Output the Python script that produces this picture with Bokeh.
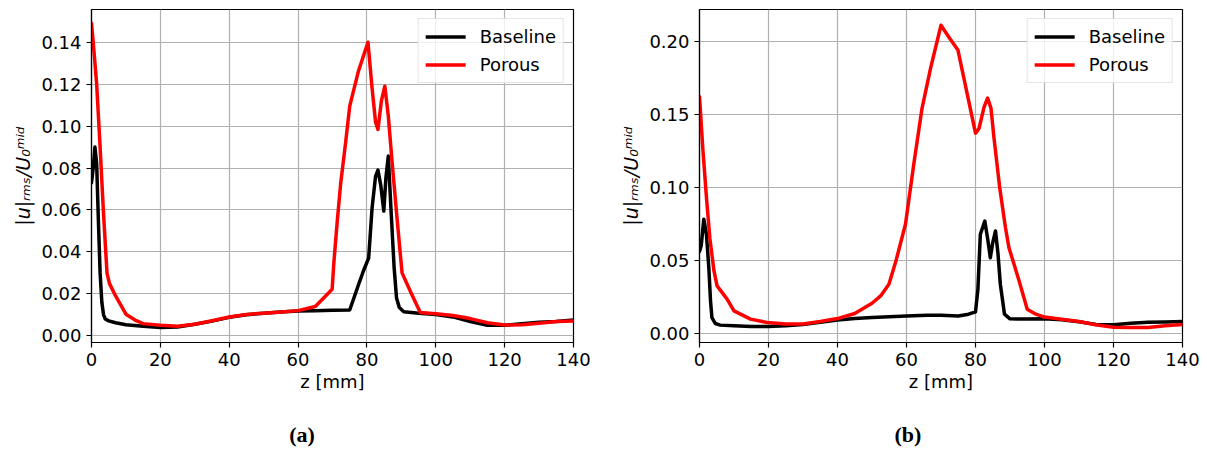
from bokeh.plotting import figure
from bokeh.layouts import row, column
from bokeh.models import Range1d, FixedTicker, PrintfTickFormatter, Legend, LegendItem, Div
from bokeh.embed import file_html
from bokeh.resources import INLINE

# ---------------- data (a) ----------------
z_base_a = [0, 0.5, 1.0, 1.5, 2.0, 2.5, 3.0, 3.5, 4.0, 5, 7, 10, 15, 20, 25, 30, 35, 40, 45, 50,
            55, 60, 65, 70, 75, 77.6, 79, 80.5, 81.5, 82.5, 83.2, 84.0, 84.9, 85.5, 86.2, 87.0,
            87.9, 88.6, 89.4, 90.7, 95, 100, 105, 110, 115, 120, 125, 130, 135, 140]
base_a = [0.073, 0.080, 0.090, 0.082, 0.055, 0.030, 0.016, 0.010, 0.008, 0.0071, 0.0062, 0.0053,
          0.0045, 0.0040, 0.0042, 0.0055, 0.0070, 0.0088, 0.0100, 0.0108, 0.0113, 0.0118, 0.0120,
          0.0122, 0.0123, 0.0246, 0.031, 0.037, 0.061, 0.076, 0.079, 0.072, 0.0595, 0.075, 0.0857,
          0.060, 0.0325, 0.018, 0.0135, 0.0115, 0.0108, 0.0102, 0.0090, 0.0068, 0.0050, 0.0050,
          0.0058, 0.0065, 0.0068, 0.0075]

z_por_a = [0, 0.5, 1.5, 2.5, 3.5, 4.5, 5.2, 7, 10, 13, 15, 20, 25, 30, 35, 40, 45, 50, 55, 60, 65,
           68, 69.9, 70.4, 71.4, 72.4, 73.8, 75.0, 77.5, 80.3, 81.5, 82.5, 83.2, 84.2, 85.2, 86.2,
           87.3, 88.8, 90.2, 92.8, 95.5, 100, 105, 110, 115, 120, 125, 130, 135, 140]
por_a = [0.149, 0.140, 0.120, 0.090, 0.058, 0.030, 0.025, 0.019, 0.0103, 0.0072, 0.0058, 0.0050,
         0.0046, 0.0055, 0.0072, 0.0090, 0.0102, 0.0108, 0.0113, 0.0120, 0.0140, 0.019, 0.0222,
         0.035, 0.055, 0.073, 0.092, 0.1095, 0.126, 0.140, 0.118, 0.102, 0.0984, 0.112, 0.119,
         0.105, 0.083, 0.055, 0.030, 0.0205, 0.0111, 0.0105, 0.0097, 0.0082, 0.0062, 0.0051,
         0.0053, 0.0060, 0.0068, 0.0071]

# ---------------- data (b) ----------------
z_base_b = [0, 0.5, 1.25, 2.0, 2.7, 3.2, 3.6, 4.6, 6, 10, 15, 20, 25, 30, 35, 40, 45, 50, 55, 60,
            66, 70, 75, 78, 80, 80.7, 81.4, 82.7, 83.5, 84.3, 85.0, 85.8, 86.5, 87.2, 88.4, 90,
            95, 100, 105, 110, 115, 120, 125, 130, 135, 140]
base_b = [0.056, 0.060, 0.078, 0.068, 0.045, 0.022, 0.0107, 0.0066, 0.0055, 0.0050, 0.0045, 0.0045,
          0.0050, 0.0060, 0.0075, 0.0090, 0.0100, 0.0108, 0.0112, 0.0118, 0.0123, 0.0122, 0.0118,
          0.0130, 0.0146, 0.030, 0.0677, 0.0768, 0.065, 0.0517, 0.062, 0.070, 0.055, 0.0335, 0.013,
          0.0098, 0.0097, 0.0099, 0.0092, 0.0078, 0.0060, 0.0058, 0.0068, 0.0074, 0.0076, 0.0080]

z_por_b = [0, 1, 2.1, 3, 4.2, 5.1, 8, 10, 14.8, 19.6, 25, 30, 35, 40, 45, 50, 52.5, 54.9, 57, 59.7,
           62.1, 64.5, 67, 70, 72.5, 74.9, 77.5, 80, 81, 82.5, 83.5, 84.5, 85.3, 87, 88.7, 89.7,
           92.5, 95, 97.5, 100, 105, 110, 114.3, 120, 125, 130, 135, 140]
por_b = [0.162, 0.125, 0.0905, 0.065, 0.0426, 0.0324, 0.0233, 0.0153, 0.0096, 0.0073, 0.0062,
         0.0063, 0.0080, 0.0100, 0.0135, 0.0205, 0.0255, 0.0335, 0.050, 0.0746, 0.1156, 0.154,
         0.1817, 0.2109, 0.202, 0.194, 0.165, 0.137, 0.140, 0.155, 0.161, 0.154, 0.135, 0.100,
         0.072, 0.0585, 0.037, 0.0164, 0.0130, 0.0110, 0.0095, 0.0080, 0.0060, 0.0040, 0.0038,
         0.0038, 0.0050, 0.0060]

x_ticks = [0, 20, 40, 60, 80, 100, 120, 140]
y_ticks_a = [0.00, 0.02, 0.04, 0.06, 0.08, 0.10, 0.12, 0.14]
y_ticks_b = [0.00, 0.05, 0.10, 0.15, 0.20]
series_names = ["Baseline", "Porous"]
captions = ["(a)", "(b)"]

FONT = "DejaVu Sans"
FS = "18px"


def make_panel(zb, yb, zp, yp, yticks, yrange, width, border_left, border_right):
    p = figure(width=width, height=408, output_backend="svg", toolbar_location=None,
               x_range=Range1d(0, 140), y_range=Range1d(*yrange),
               min_border_left=border_left, min_border_right=border_right,
               min_border_top=9, min_border_bottom=66)
    p.background_fill_color = "white"
    p.border_fill_color = "white"
    p.outline_line_color = "black"
    p.outline_line_width = 1.2

    p.xaxis.ticker = FixedTicker(ticks=x_ticks)
    p.yaxis.ticker = FixedTicker(ticks=yticks)
    p.yaxis.formatter = PrintfTickFormatter(format="%.2f")
    for ax in (p.xaxis, p.yaxis):
        ax.major_label_text_font = FONT
        ax.major_label_text_font_size = FS
        ax.major_label_text_color = "black"
        ax.axis_label_text_font = FONT
        ax.axis_label_text_font_size = FS
        ax.axis_label_text_color = "black"
        ax.axis_label_text_font_style = "normal"
        ax.major_tick_out = 5
        ax.major_tick_in = 0
        ax.minor_tick_line_color = None
        ax.axis_line_color = "black"
        ax.axis_line_width = 1.2
        ax.major_tick_line_color = "black"
        ax.major_tick_line_width = 1.2
        ax.major_label_standoff = 5
    p.xaxis.axis_label = "z [mm]"
    p.xaxis.axis_label_standoff = 2
    p.yaxis.axis_label = "|u|ᵣₘₛ/U₀ᵐⁱᵈ"
    p.yaxis.axis_label_text_font_style = "italic"
    p.yaxis.axis_label_text_font_size = "19px"
    p.yaxis.axis_label_standoff = 4

    p.xgrid.ticker = FixedTicker(ticks=x_ticks)
    p.ygrid.ticker = FixedTicker(ticks=yticks)
    for g in (p.xgrid, p.ygrid):
        g.grid_line_color = "#b0b0b0"
        g.grid_line_width = 1.2

    r1 = p.line(zb, yb, line_color="black", line_width=3.5, line_join="round", line_cap="round")
    r2 = p.line(zp, yp, line_color="#ff0000", line_width=3.5, line_join="round", line_cap="round")

    legend = Legend(items=[LegendItem(label=series_names[0], renderers=[r1]),
                           LegendItem(label=series_names[1], renderers=[r2])],
                    location="top_right", margin=9, padding=7, spacing=7,
                    glyph_width=40, glyph_height=21, label_height=21, label_standoff=14,
                    label_text_font=FONT, label_text_font_size=FS, label_text_color="black",
                    border_line_color="#cccccc", border_line_width=1,
                    background_fill_color="white", background_fill_alpha=0.8)
    p.add_layout(legend, "center")
    return p


def make_caption(text, width, shift):
    html = ('<div style="width:%dpx; text-align:center; margin-top:16px; padding-left:%dpx; '
            'box-sizing:border-box; font-family:\'Liberation Serif\', serif; font-weight:bold; '
            'font-size:22px; line-height:22px; color:black;">%s</div>') % (width, shift, text)
    return Div(text=html, width=width, height=40, margin=0)


p1 = make_panel(z_base_a, base_a, z_por_a, por_a, y_ticks_a, (-0.0032, 0.1556), 600, 91, 27)
p2 = make_panel(z_base_b, base_b, z_por_b, por_b, y_ticks_b, (-0.0064, 0.2217), 602, 99, 20)

cap_a = make_caption(captions[0], 600, 4)
cap_b = make_caption(captions[1], 602, 14)

layout = column(row(p1, p2), row(cap_a, cap_b))
open("out.html", "w").write(file_html(layout, INLINE))
